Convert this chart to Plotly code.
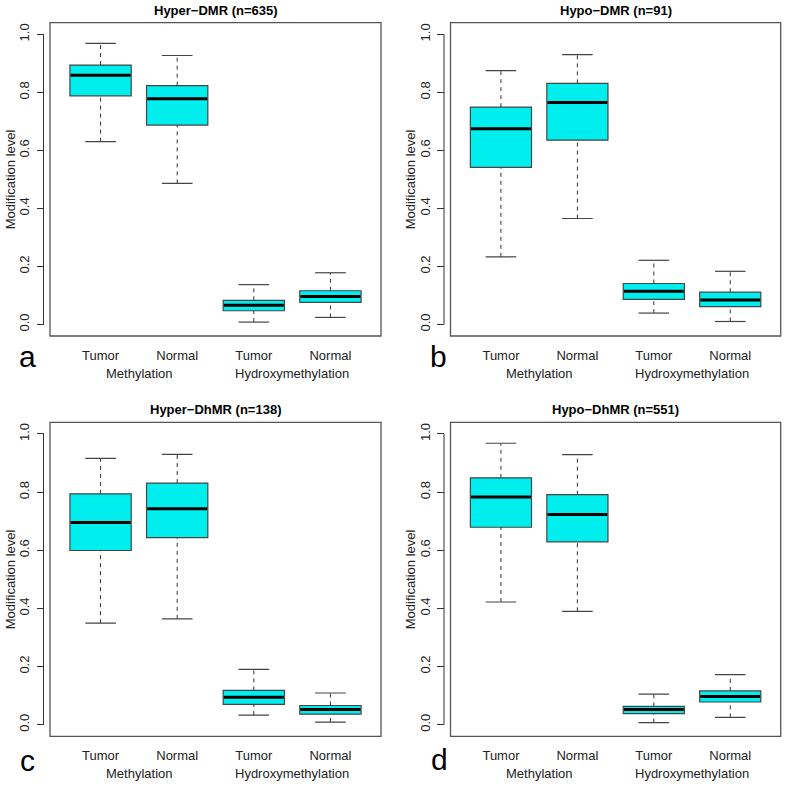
import plotly.graph_objects as go

W, H = 787, 786

# ---------------- data ----------------
panel_titles = ["Hyper\u2212DMR (n=635)", "Hypo\u2212DMR (n=91)",
                "Hyper\u2212DhMR (n=138)", "Hypo\u2212DhMR (n=551)"]
panel_letters = ["a", "b", "c", "d"]
sample_labels = ["Tumor", "Normal", "Tumor", "Normal"]
group_labels = ["Methylation", "Hydroxymethylation"]
group_centers = [1.5, 3.5]
box_positions = [1, 2, 3, 4]
y_ticks = [0.0, 0.2, 0.4, 0.6, 0.8, 1.0]

# per panel: values for [Tumor-Meth, Normal-Meth, Tumor-hMeth, Normal-hMeth]
a_lower  = [0.630, 0.486, 0.008, 0.024]
a_q1     = [0.788, 0.687, 0.047, 0.076]
a_median = [0.859, 0.778, 0.066, 0.096]
a_q3     = [0.894, 0.823, 0.083, 0.116]
a_upper  = [0.969, 0.927, 0.137, 0.178]

b_lower  = [0.233, 0.365, 0.039, 0.010]
b_q1     = [0.541, 0.635, 0.086, 0.061]
b_median = [0.674, 0.765, 0.114, 0.084]
b_q3     = [0.749, 0.831, 0.141, 0.111]
b_upper  = [0.875, 0.930, 0.221, 0.183]

c_lower  = [0.349, 0.364, 0.033, 0.009]
c_q1     = [0.599, 0.643, 0.070, 0.036]
c_median = [0.695, 0.743, 0.094, 0.052]
c_q3     = [0.794, 0.831, 0.118, 0.066]
c_upper  = [0.916, 0.930, 0.190, 0.109]

d_lower  = [0.422, 0.390, 0.007, 0.025]
d_q1     = [0.679, 0.629, 0.038, 0.078]
d_median = [0.783, 0.723, 0.052, 0.097]
d_q3     = [0.849, 0.791, 0.063, 0.116]
d_upper  = [0.968, 0.929, 0.105, 0.172]

panels = [
    (a_lower, a_q1, a_median, a_q3, a_upper),
    (b_lower, b_q1, b_median, b_q3, b_upper),
    (c_lower, c_q1, c_median, c_q3, c_upper),
    (d_lower, d_q1, d_median, d_q3, d_upper),
]

# ---------------- style / layout ----------------
FONT = "Liberation Sans, Arial, sans-serif"
FILL = "#00eeee"
BOXLINE = "#454545"
FRAME = "#555555"
TEXT = "#222222"
BOX_W = 0.8
STAPLE_W = 0.4

col_px = [(50.0, 381.0), (450.5, 780.7)]
row_px = [(22.7, 336.0), (422.3, 736.3)]
axis_gap_px = 6.5
letter_px = [(27, 357), (438, 357), (27, 760), (439, 759)]
ytitle_px = [10, 410]

fig = go.Figure()
layout = dict(
    width=W, height=H,
    margin=dict(l=0, r=0, t=0, b=0),
    paper_bgcolor="white", plot_bgcolor="white",
    showlegend=False,
    font=dict(family=FONT, color=TEXT, size=13),
)
annotations = []
shapes = []

for i, (lo, q1, med, q3, hi) in enumerate(panels):
    r, c = divmod(i, 2)
    n = "" if i == 0 else str(i + 1)
    xa, ya = "x" + n, "y" + n
    x0p, x1p = col_px[c]
    y0p, y1p = row_px[r]
    xdom = [x0p / W, x1p / W]
    ydom = [1 - y1p / H, 1 - y0p / H]
    plot_w = x1p - x0p

    layout["xaxis" + n] = dict(
        domain=xdom, anchor=ya, range=[0.34, 4.66],
        tickvals=box_positions, ticktext=sample_labels,
        ticks="", showline=False, showgrid=False, zeroline=False,
        tickfont=dict(size=13, color=TEXT, family=FONT),
        ticklabelstandoff=10,
    )
    layout["yaxis" + n] = dict(
        domain=ydom, anchor="free", position=(x0p - axis_gap_px) / W,
        range=[-0.04, 1.04],
        tickvals=y_ticks, ticktext=[f"{v:.1f}" for v in y_ticks],
        tickangle=-90, ticks="outside", ticklen=7, tickcolor="#333333",
        tickwidth=1,
        showline=False, showgrid=False, zeroline=False,
        tickfont=dict(size=13, color=TEXT, family=FONT),
        ticklabelstandoff=2,
    )

    # boxes
    for k, p in enumerate(box_positions):
        fig.add_trace(go.Box(
            x=[p], q1=[q1[k]], median=[med[k]], q3=[q3[k]],
            lowerfence=[q1[k]], upperfence=[q3[k]],
            width=BOX_W, fillcolor=FILL,
            line=dict(color=BOXLINE, width=1.2),
            whiskerwidth=0, boxpoints=False,
            xaxis=xa, yaxis=ya, hoverinfo="skip",
        ))

    # dashed whiskers
    wx, wy = [], []
    for k, p in enumerate(box_positions):
        wx += [p, p, None, p, p, None]
        wy += [q3[k], hi[k], None, lo[k], q1[k], None]
    fig.add_trace(go.Scatter(
        x=wx, y=wy, mode="lines", xaxis=xa, yaxis=ya,
        line=dict(color="#333333", width=1, dash="4px,4px"),
        hoverinfo="skip",
    ))
    # staples
    sx, sy = [], []
    for k, p in enumerate(box_positions):
        for v in (hi[k], lo[k]):
            sx += [p - STAPLE_W / 2, p + STAPLE_W / 2, None]
            sy += [v, v, None]
    fig.add_trace(go.Scatter(
        x=sx, y=sy, mode="lines", xaxis=xa, yaxis=ya,
        line=dict(color="#444444", width=1.2), hoverinfo="skip",
    ))
    # medians
    mx, my = [], []
    for k, p in enumerate(box_positions):
        mx += [p - BOX_W / 2 + 0.01, p + BOX_W / 2 - 0.01, None]
        my += [med[k], med[k], None]
    fig.add_trace(go.Scatter(
        x=mx, y=my, mode="lines", xaxis=xa, yaxis=ya,
        line=dict(color="black", width=3), hoverinfo="skip",
    ))

    # frame
    shapes.append(dict(type="rect", xref=xa + " domain", yref=ya + " domain",
                       x0=0, x1=1, y0=0, y1=1,
                       line=dict(color=FRAME, width=1.3), layer="above"))
    # y axis line spanning tick range
    shapes.append(dict(type="line", xref=xa + " domain", yref=ya,
                       x0=-axis_gap_px / plot_w, x1=-axis_gap_px / plot_w,
                       y0=min(y_ticks), y1=max(y_ticks),
                       line=dict(color="#333333", width=1)))

    # title
    annotations.append(dict(
        text="<b>" + panel_titles[i] + "</b>", xref=xa + " domain", yref="paper",
        x=0.5, y=1 - (y0p - 12.5) / H, xanchor="center", yanchor="middle",
        showarrow=False, font=dict(size=13, color="black", family=FONT),
    ))
    # y title
    annotations.append(dict(
        text="Modification level", xref="paper", yref=ya + " domain",
        x=ytitle_px[c] / W, y=0.5, xanchor="center", yanchor="middle",
        textangle=-90, showarrow=False,
        font=dict(size=13, color=TEXT, family=FONT),
    ))
    # group labels
    for g, gc in zip(group_labels, group_centers):
        annotations.append(dict(
            text=g, xref=xa, yref="paper", x=gc, y=1 - (y1p + 37.5) / H,
            xanchor="center", yanchor="middle", showarrow=False,
            font=dict(size=13, color=TEXT, family=FONT),
        ))
    # panel letter
    lx, ly = letter_px[i]
    annotations.append(dict(
        text=panel_letters[i], xref="paper", yref="paper",
        x=lx / W, y=1 - ly / H, xanchor="center", yanchor="middle",
        showarrow=False, font=dict(size=30, color="black", family=FONT),
    ))

layout["annotations"] = annotations
layout["shapes"] = shapes
fig.update_layout(**layout)
fig.write_html("out.html",
               config={"displayModeBar": False},
               post_script="document.body.style.margin='0px';"
                           "document.body.style.padding='0px';")
